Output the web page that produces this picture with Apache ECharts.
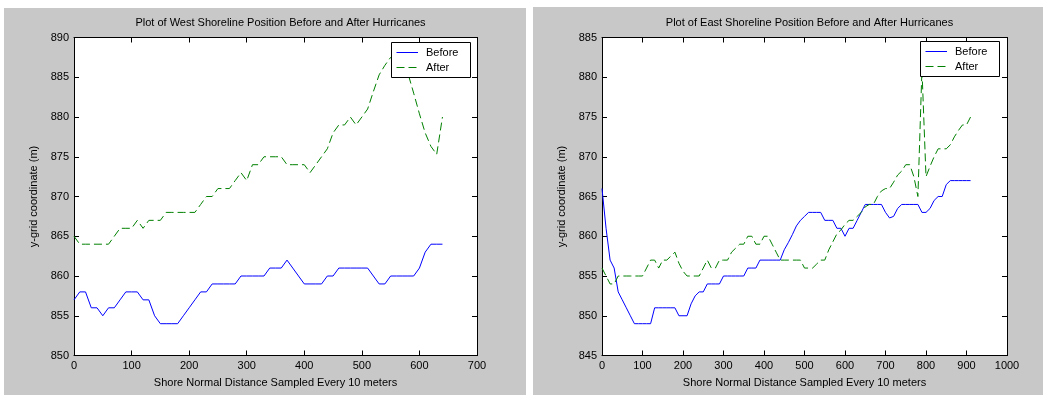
<!DOCTYPE html>
<html>
<head>
<meta charset="utf-8">
<script src="https://cdn.jsdelivr.net/npm/echarts@6/dist/echarts.min.js"></script>
<style>
html,body{margin:0;padding:0;background:#fff;}
#wrap{position:relative;width:1043px;height:395px;background:#fff;}
#west{position:absolute;left:0;top:0;width:530px;height:395px;}
#east{position:absolute;left:530px;top:0;width:513px;height:395px;}
</style>
</head>
<body>
<div id="wrap"><div id="west"></div><div id="east"></div></div>
<script>
// ---- West shoreline (samples every 10 m, 0..640) ----
const westDistance = [];
for (let d = 0; d <= 640; d += 10) westDistance.push(d);
const westBefore = [
  857,858,858,856,856,855,856,856,857,858,
  858,858,857,857,855,854,854,854,854,855,
  856,857,858,858,859,859,859,859,859,860,
  860,860,860,860,861,861,861,862,861,860,
  859,859,859,859,860,860,861,861,861,861,
  861,861,860,859,859,860,860,860,860,860,
  861,863,864,864,864
];
const westAfter = [
  865,864,864,864,864,864,864,865,866,866,
  866,867,866,867,867,867,868,868,868,868,
  868,868,869,870,870,871,871,871,872,873,
  872,874,874,875,875,875,875,874,874,874,
  874,873,874,875,876,878,879,879,880,879,
  880,881,883.2,885.3,886.5,887.5,888,887.5,885.5,883,
  880.4,878,876.3,875.3,880
];
// ---- East shoreline (samples every 10 m, 0..910) ----
const eastDistance = [];
for (let d = 0; d <= 910; d += 10) eastDistance.push(d);
const eastBefore = [
  866,861,857,856,853,852,851,850,849,849,
  849,849,849,851,851,851,851,851,851,850,
  850,850,851.5,852.5,853,853,854,854,854,854,
  855,855,855,855,855,855,856,856,856,857,
  857,857,857,857,857,858.3,859.2,860.2,861.3,862,
  862.5,863,863,863,863,862,862,862,861,861,
  860,861,861,862,863,864,864,864,864,864,
  863,862.3,862.5,863.5,864,864,864,864,864,863,
  863,863.5,864.5,865,865,866.5,867,867,867,867,
  867,867
];
const eastAfter = [
  856,855,854,854,855,855,855,855,855,855,
  855,856,857,857,856,857,857,857.5,858,856.6,
  855.6,855,855,855,855,856,857,856,856,857,
  857,857,858,858.5,859,859,860,860,859,859,
  860,860,859,858,857,857,857,857,857,857,
  856,856,856,856.5,857,857,858.3,859.3,860.3,860.8,
  861.5,862,862,862.5,863,863.7,864,864,865,865.7,
  866,866,866.8,867.7,868.2,869,869,867.5,865,881,
  867.5,868.8,870,871,871,871,871.5,872.5,873.3,874,
  874,875
];

const westXTicks = {min: 0, max: 700, interval: 100};
const westYTicks = {min: 850, max: 890, interval: 5};
const eastXTicks = {min: 0, max: 1000, interval: 100};
const eastYTicks = {min: 845, max: 885, interval: 5};
const westTitle = 'Plot of West Shoreline Position Before and After Hurricanes';
const eastTitle = 'Plot of East Shoreline Position Before and After Hurricanes';
const xName = 'Shore Normal Distance Sampled Every 10 meters';
const yName = 'y-grid coordinate (m)';
const legendLabels = ['Before', 'After'];

const FONT = "'Liberation Sans', Arial, sans-serif";
const BLUE = '#0000ff';
const GREEN = '#008000';
const GREY = '#c8c8c8';
const DASH = [8, 4];

function pair(xs, ys) { return xs.map((x, i) => [x, ys[i]]); }
const plainNum = v => String(v);
const tickStyle = {show: true, inside: true, length: 5, lineStyle: {color: '#000'}};
const axLine = {show: true, onZero: false, lineStyle: {color: '#000', width: 1}};
const labelStyle = {color: '#000', fontFamily: FONT, fontSize: 11, margin: 5, formatter: plainNum};

// Legend box (key lines + real text), drawn above the series
function legendGraphic(x, y) {
  const w = 79, h = 35;
  const Z = 100, ZL = 1;
  return {
    type: 'group', left: x, top: y, z: Z, zlevel: ZL, silent: true,
    children: [
      {type: 'rect', z: Z, zlevel: ZL, shape: {x: 0.5, y: 0.5, width: w, height: h}, style: {fill: '#fff', stroke: '#000', lineWidth: 1}},
      {type: 'line', z: Z + 1, zlevel: ZL, shape: {x1: 5.5, y1: 10.5, x2: 27, y2: 10.5}, style: {stroke: BLUE, lineWidth: 1}},
      {type: 'line', z: Z + 1, zlevel: ZL, shape: {x1: 5.5, y1: 25.5, x2: 27, y2: 25.5}, style: {stroke: GREEN, lineWidth: 1, lineDash: DASH}},
      {type: 'text', z: Z + 1, zlevel: ZL, x: 35, y: 10.5, style: {text: legendLabels[0], fill: '#000', font: '11px ' + FONT, textVerticalAlign: 'middle', verticalAlign: 'middle'}},
      {type: 'text', z: Z + 1, zlevel: ZL, x: 35, y: 25.5, style: {text: legendLabels[1], fill: '#000', font: '11px ' + FONT, textVerticalAlign: 'middle', verticalAlign: 'middle'}}
    ]
  };
}

function build(el, cfg) {
  const chart = echarts.init(el, null, {renderer: 'canvas'});
  const xt = cfg.xTicks, yt = cfg.yTicks;
  chart.setOption({
    backgroundColor: 'transparent',
    animation: false,
    graphic: [
      {type: 'rect', z: -10, silent: true, shape: cfg.panel, style: {fill: GREY}},
      legendGraphic(cfg.legendPos[0], cfg.legendPos[1])
    ],
    title: {text: cfg.title, left: cfg.grid.left + cfg.grid.width / 2, top: 12, textAlign: 'center',
      textStyle: {color: '#000', fontFamily: FONT, fontSize: 11, fontWeight: 'normal'}},
    grid: Object.assign({show: true, backgroundColor: '#fff', borderWidth: 0}, cfg.grid),
    xAxis: [
      {type: 'value', position: 'bottom', min: xt.min, max: xt.max, interval: xt.interval,
       name: xName, nameLocation: 'middle', nameGap: 22,
       nameTextStyle: {color: '#000', fontFamily: FONT, fontSize: 11},
       axisLine: axLine, axisTick: tickStyle, axisLabel: labelStyle, splitLine: {show: false}},
      {type: 'value', position: 'top', min: xt.min, max: xt.max, interval: xt.interval,
       axisLine: axLine, axisTick: tickStyle, axisLabel: {show: false}, splitLine: {show: false}}
    ],
    yAxis: [
      {type: 'value', position: 'left', min: yt.min, max: yt.max, interval: yt.interval,
       name: yName, nameLocation: 'middle', nameGap: 28, nameRotate: 90,
       nameTextStyle: {color: '#000', fontFamily: FONT, fontSize: 11},
       axisLine: axLine, axisTick: tickStyle, axisLabel: labelStyle, splitLine: {show: false}},
      {type: 'value', position: 'right', min: yt.min, max: yt.max, interval: yt.interval,
       axisLine: axLine, axisTick: tickStyle, axisLabel: {show: false}, splitLine: {show: false}}
    ],
    series: [
      {name: legendLabels[0], type: 'line', xAxisIndex: 0, yAxisIndex: 0, data: pair(cfg.x, cfg.before),
       symbol: 'none', showSymbol: false, silent: true,
       lineStyle: {color: BLUE, width: 1, type: 'solid'}, itemStyle: {color: BLUE}},
      {name: legendLabels[1], type: 'line', xAxisIndex: 0, yAxisIndex: 0, data: pair(cfg.x, cfg.after),
       symbol: 'none', showSymbol: false, silent: true,
       lineStyle: {color: GREEN, width: 1, type: DASH}, itemStyle: {color: GREEN}}
    ]
  });
}

build(document.getElementById('west'), {
  title: westTitle, x: westDistance, before: westBefore, after: westAfter,
  xTicks: westXTicks, yTicks: westYTicks,
  panel: {x: 4, y: 8, width: 522, height: 387},
  grid: {left: 74, top: 37.5, width: 403, height: 318},
  legendPos: [391, 42]
});
build(document.getElementById('east'), {
  title: eastTitle, x: eastDistance, before: eastBefore, after: eastAfter,
  xTicks: eastXTicks, yTicks: eastYTicks,
  panel: {x: 3, y: 7, width: 510, height: 388},
  grid: {left: 72, top: 37.5, width: 405, height: 318},
  legendPos: [390, 41]
});
</script>
</body>
</html>
